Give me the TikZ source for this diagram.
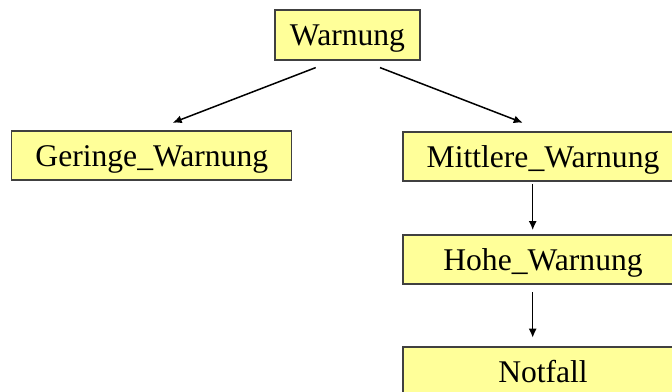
\documentclass[tikz,border=0pt]{standalone}
\usepackage{fontspec}
\setmainfont{Liberation Serif}
\usetikzlibrary{calc,arrows.meta}
\definecolor{boxfill}{HTML}{FFFF99}
\definecolor{boxline}{HTML}{404040}
\begin{document}
\begin{tikzpicture}[x=1pt,y=-1pt,
  box/.style={draw=boxline,fill=boxfill,line width=1.2pt,minimum height=49pt,inner sep=0pt,
    text height=26pt,text depth=5pt,
    font=\fontsize{31.6}{38}\selectfont},
  conn/.style={line width=1.5pt,-{Latex[length=9pt,width=8pt]}}]
\useasboundingbox (0,0) rectangle (672,391);
\clip (0,0) rectangle (672,391);
\node[box,minimum width=145pt,minimum height=50pt] (W) at (347.5,35) {Warnung};
\node[box,minimum width=280pt] (G) at (151.8,155.5) {Geringe\_Warnung};
\node[box,minimum width=280pt] (M) at (543,156.5) {Mittlere\_Warnung};
\node[box,minimum width=280pt] (H) at (543,259.5) {Hohe\_Warnung};
\node[box,minimum width=280pt] (N) at (543,371.5) {Notfall};
\draw[conn] ($(W.south)+(-31.8,7)$) -- ($(G.north)+(20.9,-7.7)$);
\draw[conn] ($(W.south)+(32.5,7)$) -- ($(M.north)+(-20.3,-8.7)$);
\draw[conn] ($(M.south)+(-10.3,2.3)$) -- ($(H.north)+(-10.3,-4.3)$);
\draw[conn] ($(H.south)+(-10.3,7.7)$) -- ($(N.north)+(-10.3,-8.7)$);
\end{tikzpicture}
\end{document}
